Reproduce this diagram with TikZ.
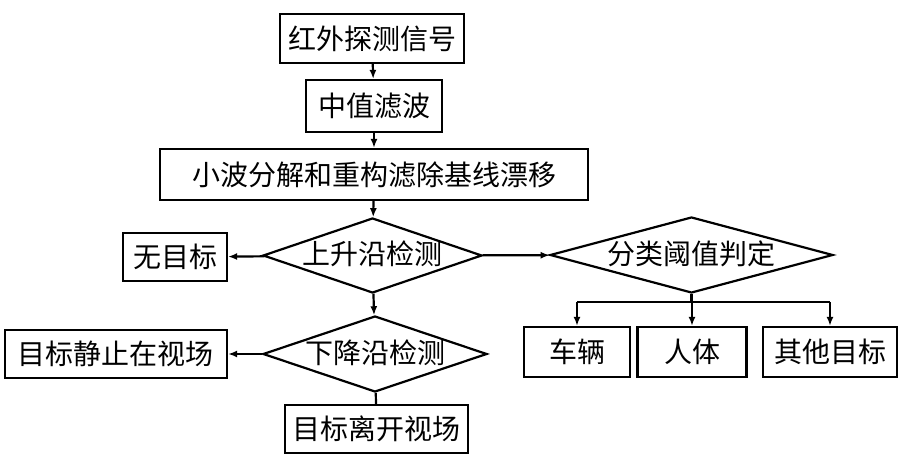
\documentclass[tikz,border=0pt]{standalone}
\usepackage{fontspec}
\newfontfamily\cjk{Noto Sans CJK SC}
\usetikzlibrary{shapes.geometric,arrows.meta}

\begin{document}
\begin{tikzpicture}[x=0.5pt, y=-0.5pt, line width=1.1pt,
		box/.style={draw, rectangle, inner sep=0pt, font=\cjk\fontsize{14}{16}\selectfont},
		test/.style={draw, diamond, inner sep=0pt, text height=11pt, text depth=1.5pt, font=\cjk\fontsize{14}{16}\selectfont},
		arr/.style={-{Latex[length=4.5pt,width=3.5pt]}}]
				\useasboundingbox (0,0) rectangle (900,469);
				\node[box, minimum width=92pt, minimum height=24.5pt] (sig) at (372,38.5) {红外探测信号};
				\node[box, minimum width=68pt, minimum height=26pt] (med) at (374,106) {中值滤波};
				\node[box, minimum width=214pt, minimum height=25.5pt] (wav) at (374,174.5) {小波分解和重构滤除基线漂移};
				\node[test, aspect=2.92, minimum width=109.5pt, minimum height=37.5pt] (rise) at (372.5,255.5) {上升沿检测};
				\node[box, minimum width=52pt, minimum height=24pt] (none) at (175,257) {无目标};
				\node[test, aspect=3.72, minimum width=141.5pt, minimum height=38pt] (cls) at (691.5,255) {分类阈值判定};
				\node[test, aspect=2.95, minimum width=112pt, minimum height=38pt] (fall) at (375,354) {下降沿检测};
				\node[box, minimum width=111pt, minimum height=24pt] (still) at (116,354) {目标静止在视场};
				\node[box, minimum width=91.5pt, minimum height=24pt] (leave) at (376.5,429) {目标离开视场};
				\node[box, minimum width=53pt, minimum height=25pt] (car) at (577,352) {车辆};
				\node[box, minimum width=54.5pt, minimum height=25pt] (human) at (692,352) {人体};
				\node[box, minimum width=67pt, minimum height=25pt] (other) at (830,352) {其他目标};
				\coordinate (bus) at (691.5,302);
				
				\draw[arr] (sig) -- (med);
				\draw[arr] (med) -- (wav);
				\draw[arr] (wav) -- (rise);
				\draw[arr] (rise) -- (none);
				\draw[arr] (rise) -- (cls);
				\draw[arr] (rise) -- (fall);
				\draw[arr] (fall) -- (still);
				\draw (fall) -- (leave);
				\draw (cls.south) -- (bus);
				\draw (car.north |- bus) -- (other.north |- bus);
				\foreach \t in {car,human,other} {
					\draw[arr] (\t.north |- bus) -- (\t.north);
				}
			\end{tikzpicture}
\end{document}
